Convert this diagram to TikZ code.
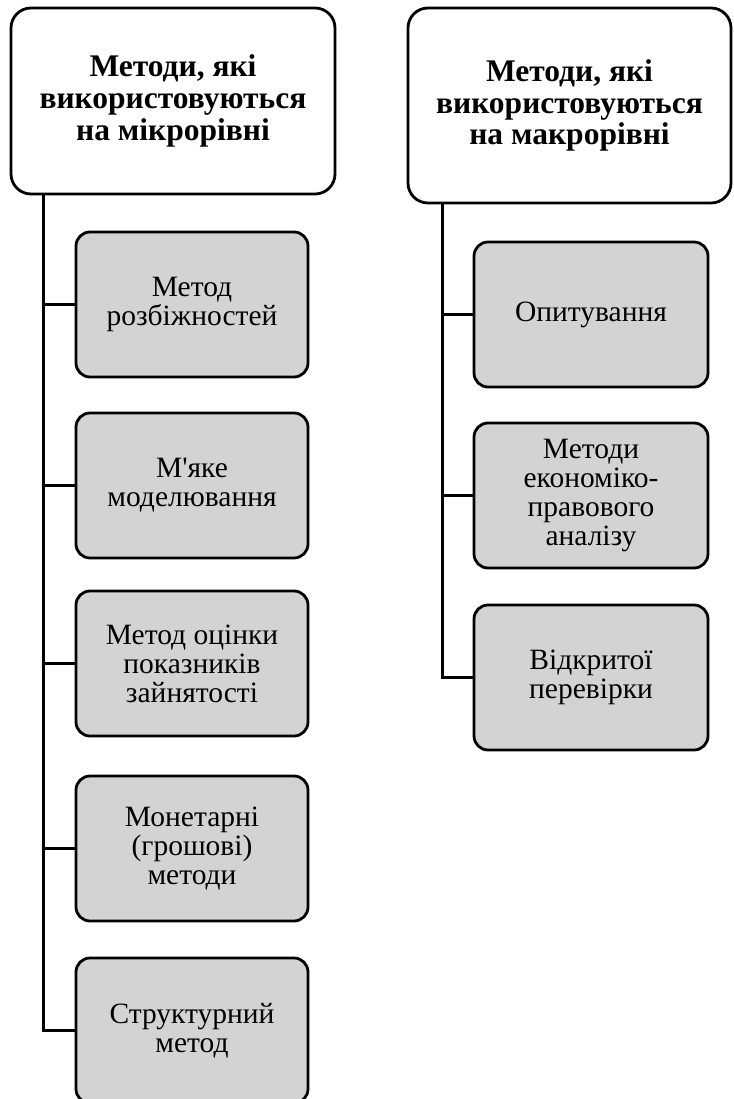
\documentclass[tikz,border=0pt]{standalone}
\usepackage{fontspec}
\setmainfont{Liberation Serif}
\usepackage{tikz}
\usetikzlibrary{positioning}
\definecolor{boxgray}{RGB}{211,211,211}

\begin{document}
\begin{tikzpicture}[x=1pt, y=-1pt,
		hdr/.style={draw, line width=2.8pt, rounded corners=20pt, fill=white, align=center, font=\fontsize{31.5}{31.7}\selectfont\bfseries},
		item/.style={draw, line width=2.8pt, rounded corners=14pt, fill=boxgray, align=center, minimum width=232pt, minimum height=145pt, font=\fontsize{29.5}{29}\selectfont},
		link/.style={line width=3pt}]
		\useasboundingbox (0,0) rectangle (733,1099);
		\clip (0,0) rectangle (733,1099);
		% Headers
		\node[hdr, minimum width=324pt, minimum height=186pt] (hdrL) at (173,101) {Методи, які\\використовуються\\на мікрорівні};
		\node[hdr, minimum width=323pt, minimum height=195pt] (hdrR) at (569.5,105.5) {Методи, які\\використовуються\\на макрорівні};

		% Micro level methods
		\node[item] (m1) at (192,304.5) {Метод\\розбіжностей};
		\node[item] (m2) at (192,485.5) {М\textquotesingle яке\\моделювання};
		\node[item] (m3) at (192,663.5) {Метод оцінки\\показників\\зайнятості};
		\node[item] (m4) at (192,848.5) {Монетарні\\(грошові)\\методи};
		\node[item] (m5) at (192,1030.5) {Структурний\\метод};

		% Macro level methods
		\node[item, minimum width=234pt] (r1) at (591,314.5) {Опитування};
		\node[item, minimum width=234pt] (r2) at (591,495.5) {Методи\\економіко-\\правового\\аналізу};
		\node[item, minimum width=234pt] (r3) at (591,677.5) {Відкритої\\перевірки};

		% Connectors
		\coordinate (trunkL) at (43.5,194);
		\coordinate (trunkR) at (442.5,203);
		\foreach \n in {m1,m2,m3,m4,m5}
			\draw[link] (trunkL) |- (\n.west);
		\foreach \n in {r1,r2,r3}
			\draw[link] (trunkR) |- (\n.west);
	\end{tikzpicture}
\end{document}
